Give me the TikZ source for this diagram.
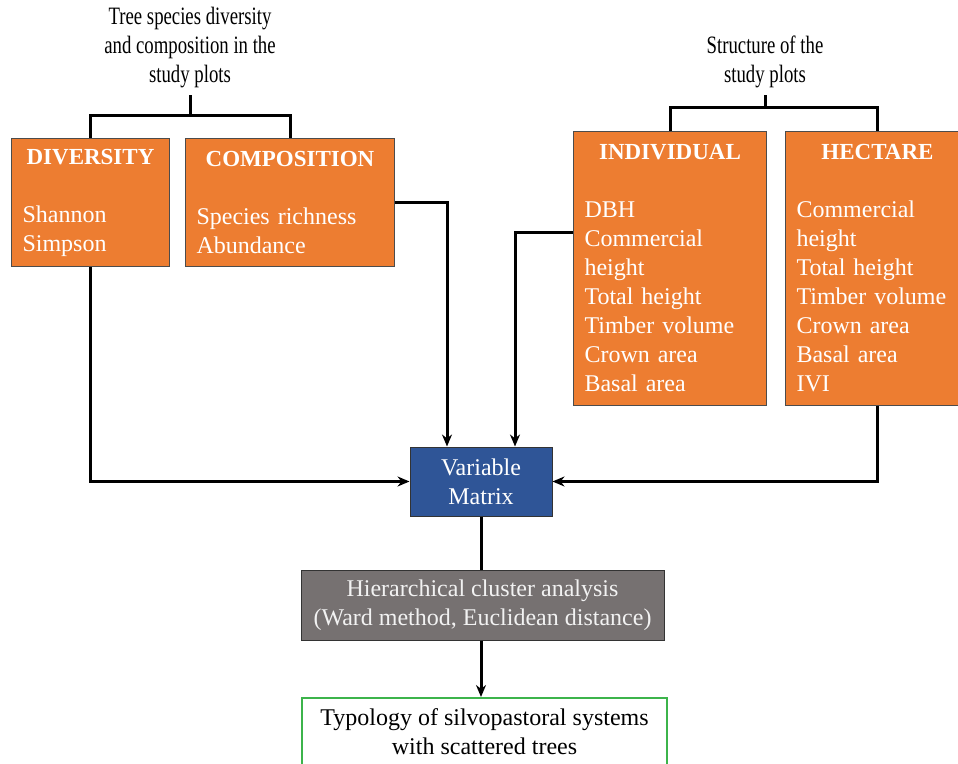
\documentclass[tikz,border=0pt]{standalone}
\usepackage{fontspec}
\setmainfont{Liberation Serif}
\newfontfamily\narrowserif[FakeStretch=0.75]{Liberation Serif}
\usetikzlibrary{arrows.meta}
\definecolor{boxorange}{HTML}{ED7D31}
\definecolor{boxblue}{HTML}{2F5597}
\definecolor{boxgrey}{HTML}{767171}
\definecolor{boxgreen}{HTML}{3CB44B}
\newcommand{\boxhead}[1]{{\centering\fontsize{11.5}{14.5}\selectfont\bfseries #1\par}\vspace{14.5pt}}

\begin{document}
\begin{tikzpicture}[x=0.5pt,y=-0.5pt,>={Stealth[length=6pt,width=5pt]},
        font=\fontsize{12}{14.5}\selectfont,
        link/.style={draw, line width=1.5pt},
        ttl/.style={align=center, font=\fontsize{12.5}{14.5}\selectfont\narrowserif},
        orangebox/.style={rectangle, draw=black!70, line width=0.5pt, fill=boxorange, text=white,
            align=left, anchor=north west, inner xsep=5.5pt, inner ysep=5pt}]
    \useasboundingbox (0,0) rectangle (958,764);

    % titles
    \node[ttl] at (190,48) (ttl_div) {Tree species diversity\\and composition in the\\study plots};
    \node[ttl] at (765,62) (ttl_str) {Structure of the\\study plots};

    % diversity and composition
    \node[orangebox, text width=68pt, minimum height=64pt] at (11,138) (diversity)
        {\boxhead{DIVERSITY}Shannon\\Simpson};
    \node[orangebox, text width=93.5pt, minimum height=64pt] at (185,138) (composition)
        {\boxhead{COMPOSITION}Species richness\\Abundance};

    % structure
    \node[orangebox, text width=85.5pt, minimum height=137pt] at (573,131) (individual)
        {\boxhead{INDIVIDUAL}DBH\\Commercial\\height\\Total height\\Timber volume\\Crown area\\Basal area};
    \node[orangebox, text width=81pt, minimum height=137pt] at (785,131) (hectare)
        {\boxhead{HECTARE}Commercial\\height\\Total height\\Timber volume\\Crown area\\Basal area\\IVI};

    % analysis
    \node at (481,481.5) [rectangle, draw=black!80, line width=0.5pt, fill=boxblue, text=white, align=center,
        minimum width=71pt, minimum height=34.5pt, inner sep=2pt] (matrix) {Variable\\Matrix};
    \node at (482.5,605) [rectangle, draw=black!80, line width=0.5pt, fill=boxgrey, text=black!5, align=center,
        minimum width=181.5pt, minimum height=35pt, inner sep=2pt] (cluster)
        {Hierarchical cluster analysis\\(Ward method, Euclidean distance)};
    \node at (484.5,697) [rectangle, anchor=north, draw=boxgreen, line width=0.8pt, fill=white, align=center,
        minimum width=182.5pt, inner ysep=5.3pt] (typology)
        {Typology of silvopastoral systems\\with scattered trees};

    % brackets
    \coordinate (fork_div) at (190,116);
    \coordinate (fork_str) at (765,108);
    \draw[link] (ttl_div.south) -- (fork_div);
    \draw[link] (diversity.north) |- (fork_div) -| (composition.north);
    \draw[link] (ttl_str.south) -- (fork_str);
    \draw[link] (individual.north) |- (fork_str) -| (hectare.north);

    % connectors
    \draw[link,->] (diversity.south) |- (matrix.west);
    \draw[link,->] (composition.east) -| ([xshift=-17pt]matrix.north);
    \draw[link,->] ([yshift=18pt]individual.west) -| ([xshift=17pt]matrix.north);
    \draw[link,->] (hectare.south) |- (matrix.east);
    \draw[link] (matrix.south) -- (matrix.south |- cluster.north);
    \draw[link,->] (matrix.south |- cluster.south) -- (matrix.south |- typology.north);
\end{tikzpicture}
\end{document}
